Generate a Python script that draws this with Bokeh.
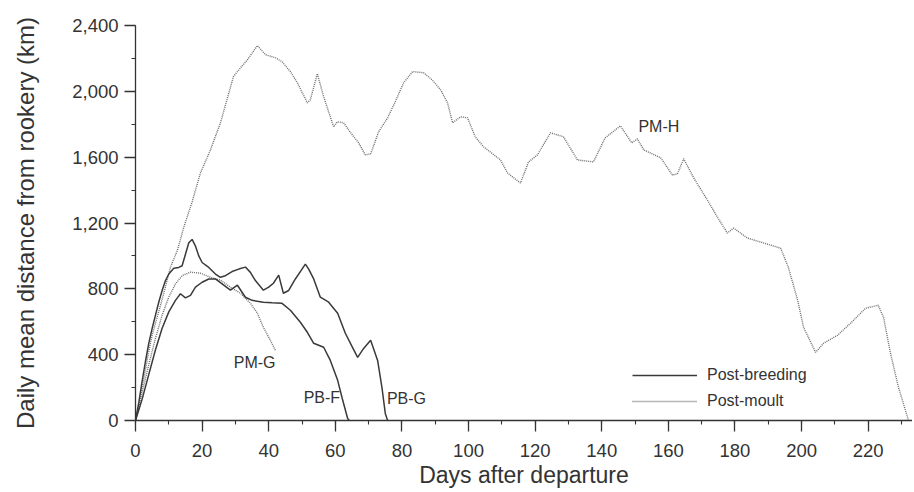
from bokeh.plotting import figure
from bokeh.models import Range1d, SingleIntervalTicker, NumeralTickFormatter, Legend, LegendItem, ColumnDataSource
from bokeh.core.properties import value
from bokeh.embed import file_html
from bokeh.resources import INLINE

# Post-moult H
pmh_day = [0, 1, 2, 3, 4, 5, 6.5, 8.5, 10.5, 12.6, 14.5, 17, 19.5, 22.5, 25.5, 29.4, 30.6, 33.6, 36.6, 39,
           42, 44, 46.5, 48.6, 51.6, 52.5, 54.6, 56.5, 59.5, 60.6, 62.5, 64.6, 67, 69, 70.6, 73, 75.7, 78, 80.5, 83.2,
           86.5, 89, 91.6, 93.7, 95.2, 97.6, 99.7, 102, 104.5, 109.6, 111.7, 115.6, 118, 120.7, 124.6, 128.5, 132.7, 137.5, 141, 145.6,
           149, 150.7, 152.6, 157.7, 161.2, 162.7, 164.6, 167.6, 171.7, 174.7, 177.7, 179.6, 183.8, 187.7, 193.7, 196, 198.8, 200.6, 204.2, 206.6,
           210.8, 214.7, 219.2, 223, 224.6, 226.7, 229.1, 232.1]
pmh_km = [0, 90, 200, 310, 420, 520, 627, 773, 932, 1035, 1175, 1328, 1504, 1644, 1808, 2089, 2120, 2192, 2278, 2223,
          2204, 2180, 2120, 2052, 1930, 1949, 2107, 1967, 1784, 1815, 1809, 1748, 1687, 1614, 1620, 1754, 1839, 1937, 2052, 2120,
          2113, 2071, 2010, 1930, 1809, 1845, 1839, 1724, 1663, 1583, 1504, 1443, 1571, 1614, 1748, 1724, 1583, 1571, 1717, 1790,
          1687, 1711, 1644, 1596, 1492, 1498, 1590, 1474, 1340, 1236, 1139, 1169, 1108, 1084, 1047, 932, 731, 566, 414, 469,
          518, 591, 682, 700, 627, 408, 201, 0]

# Post-moult G
pmg_day = [0, 2, 4, 6, 8, 10, 12, 14, 16.5, 19.5, 22.5, 25.5, 28.5, 31.5, 34.5, 36.6, 38.4, 40.5, 42]
pmg_km = [0, 170, 340, 500, 640, 750, 830, 880, 901, 895, 870, 853, 810, 773, 712, 652, 566, 487, 426]

# Post-breeding F
pbf_day = [0, 2, 4, 6, 8, 10, 12, 13.5, 15, 16.5, 18, 20, 22, 24, 26, 28.5, 30.6, 33, 35, 38.4,
           41, 44, 46.5, 49.5, 51.6, 53.5, 56.5, 58.5, 60.7, 62, 63.7, 64.2]
pbf_km = [0, 130, 280, 430, 560, 660, 730, 770, 745, 760, 810, 840, 860, 860, 830, 792, 822, 749, 730, 719,
          715, 712, 670, 597, 536, 469, 445, 365, 244, 140, 12, 0]

# Post-breeding G
pbg_day = [0, 1, 2, 3, 4, 5, 6, 7, 8, 9, 10, 11.5, 13, 14, 15, 16, 17, 18, 19, 20,
           22, 24, 25.5, 27, 29, 31, 33, 34.5, 36, 38.4, 40, 41.4, 43, 44.4, 46, 48, 50, 51, 52, 53.5,
           55.5, 58, 60.7, 63, 65, 66.7, 68.5, 70.6, 72.7, 74, 75, 75.7]
pbg_km = [0, 110, 240, 360, 470, 560, 640, 720, 790, 850, 890, 925, 930, 940, 1010, 1080, 1100, 1060, 1000, 960,
          930, 890, 870, 880, 905, 920, 932, 900, 850, 792, 810, 834, 883, 773, 790, 860, 920, 950, 920, 860,
          749, 719, 652, 530, 450, 384, 438, 487, 365, 200, 43, 0]

label_text = ["PM-H", "PM-G", "PB-F", "PB-G"]
label_day = [151, 29.5, 50.5, 75.5]
label_km = [1784, 353, 140, 134]

x_ticks_interval = 20
y_ticks_interval = 400

FONT = "Liberation Sans"
DARK = "#3a3a3a"
LIGHT = "#6e6e6e"
TXT = "#333333"

p = figure(width=912, height=490, output_backend="svg", toolbar_location=None,
           x_range=Range1d(0, 233.3), y_range=Range1d(0, 2400),
           min_border_left=135, min_border_right=0, min_border_top=25, min_border_bottom=70)
p.outline_line_color = None
p.grid.visible = False
p.background_fill_color = "white"

p.xaxis.ticker = SingleIntervalTicker(interval=x_ticks_interval, num_minor_ticks=2)
p.yaxis.ticker = SingleIntervalTicker(interval=y_ticks_interval, num_minor_ticks=2)
p.yaxis.formatter = NumeralTickFormatter(format="0,0")

for ax in (p.xaxis[0], p.yaxis[0]):
    ax.axis_line_color = TXT
    ax.axis_line_width = 1.3
    ax.major_tick_line_color = TXT
    ax.minor_tick_line_color = TXT
    ax.major_tick_line_width = 1.3
    ax.minor_tick_line_width = 1.1
    ax.major_tick_out = 11
    ax.major_tick_in = 0
    ax.minor_tick_out = 4
    ax.minor_tick_in = 0
    ax.major_label_text_font = FONT
    ax.major_label_text_font_size = "18.5px"
    ax.major_label_text_color = TXT
    ax.axis_label_text_font = FONT
    ax.axis_label_text_font_style = "normal"
    ax.axis_label_text_color = TXT

p.xaxis.axis_label = "Days after departure"
p.xaxis.axis_label_text_font_size = "23px"
p.xaxis.major_label_standoff = 12
p.xaxis.axis_label_standoff = 2
p.yaxis.axis_label = "Daily mean distance from rookery (km)"
p.yaxis.axis_label_text_font_size = "24px"
p.yaxis.major_label_standoff = 6
p.yaxis.axis_label_standoff = 30

r_pmh = p.line(pmh_day, pmh_km, line_color=LIGHT, line_width=1.4, line_dash="1 1")
r_pmg = p.line(pmg_day, pmg_km, line_color=LIGHT, line_width=1.4, line_dash="1 1")
r_pbf = p.line(pbf_day, pbf_km, line_color=DARK, line_width=1.5)
r_pbg = p.line(pbg_day, pbg_km, line_color=DARK, line_width=1.5)

src = ColumnDataSource(dict(x=label_day, y=label_km, t=label_text))
p.text("x", "y", text="t", source=src, text_font=value(FONT), text_font_size="16px",
       text_color=TXT, text_baseline="middle", text_align="left")

legend = Legend(items=[LegendItem(label="Post-breeding", renderers=[r_pbf]),
                       LegendItem(label="Post-moult", renderers=[r_pmh])],
                location=(497, 9), orientation="vertical",
                border_line_color=None, background_fill_alpha=0,
                glyph_width=65, glyph_height=20, label_standoff=10, spacing=6,
                padding=0, margin=0,
                label_text_font=FONT, label_text_font_size="16px", label_text_color=TXT)
p.add_layout(legend)

open("out.html", "w").write(file_html(p, INLINE))
